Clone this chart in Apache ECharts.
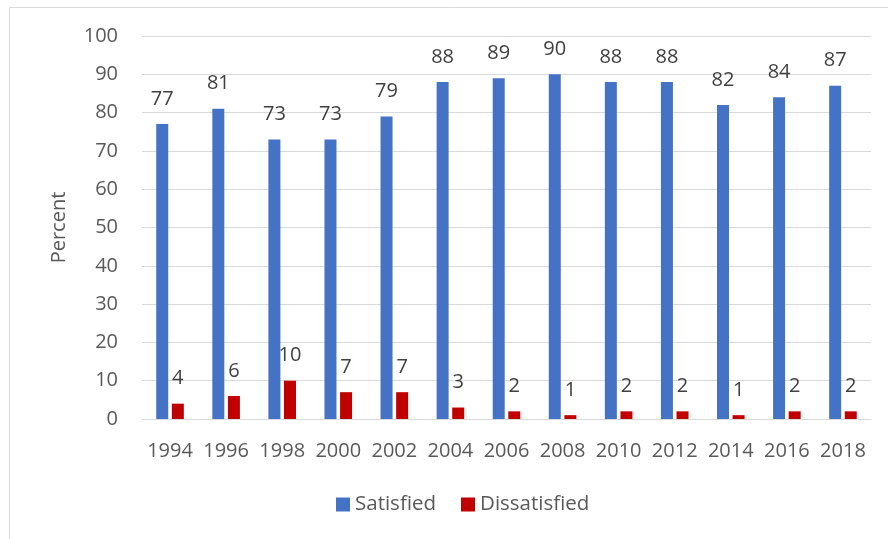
<!DOCTYPE html>
<html>
<head>
<meta charset="utf-8">
<script src="https://cdn.jsdelivr.net/npm/echarts@6/dist/echarts.min.js"></script>
<style>
html,body{margin:0;padding:0;background:#fff;}
#chart{width:888px;height:539px;}
</style>
</head>
<body>
<div id="chart"></div>
<script>
var years = ['1994','1996','1998','2000','2002','2004','2006','2008','2010','2012','2014','2016','2018'];
var satisfied = [77,81,73,73,79,88,89,90,88,88,82,84,87];
var dissatisfied = [4,6,10,7,7,3,2,1,2,2,1,2,2];
var yTicks = {min:0, max:100, interval:10};

var FONT = '"Open Sans", "Liberation Sans", sans-serif';
var chart = echarts.init(document.getElementById('chart'), null, {renderer:'canvas'});
var labelStyle = {show:true, position:'top', distance:15, color:'#404040', fontSize:20, lineHeight:20, fontFamily:FONT};
chart.setOption({
  animation:false,
  graphic:[{type:'rect', shape:{x:9.5,y:7.5,width:900,height:600}, style:{fill:'none', stroke:'#d9d9d9', lineWidth:1}, silent:true}],
  grid:{left:142, right:17, top:36, bottom:120, containLabel:false},
  legend:{
    bottom:19, left:331, itemWidth:14, itemHeight:14, itemGap:25,
    icon:'rect',
    textStyle:{color:'#595959', fontSize:20.5, fontFamily:FONT},
    data:['Satisfied','Dissatisfied']
  },
  xAxis:{
    type:'category', data:years,
    axisLine:{show:true, lineStyle:{color:'#d9d9d9', width:1}},
    axisTick:{show:false},
    axisLabel:{color:'#595959', fontSize:20, fontFamily:FONT, margin:22, interval:0}
  },
  yAxis:{
    type:'value', min:yTicks.min, max:yTicks.max, interval:yTicks.interval,
    name:'Percent', nameLocation:'middle', nameGap:73, nameRotate:90,
    nameTextStyle:{color:'#595959', fontSize:20, fontFamily:FONT},
    axisLine:{show:false}, axisTick:{show:false},
    axisLabel:{color:'#595959', fontSize:20, fontFamily:FONT, margin:24},
    splitLine:{lineStyle:{color:'#d9d9d9', width:1}}
  },
  series:[
    {name:'Satisfied', type:'bar', data:satisfied, barWidth:12, barGap:'30%', itemStyle:{color:'#4472C4'}, label:labelStyle},
    {name:'Dissatisfied', type:'bar', data:dissatisfied, barWidth:12, barGap:'30%', itemStyle:{color:'#C00000'}, label:labelStyle}
  ]
});
</script>
</body>
</html>
